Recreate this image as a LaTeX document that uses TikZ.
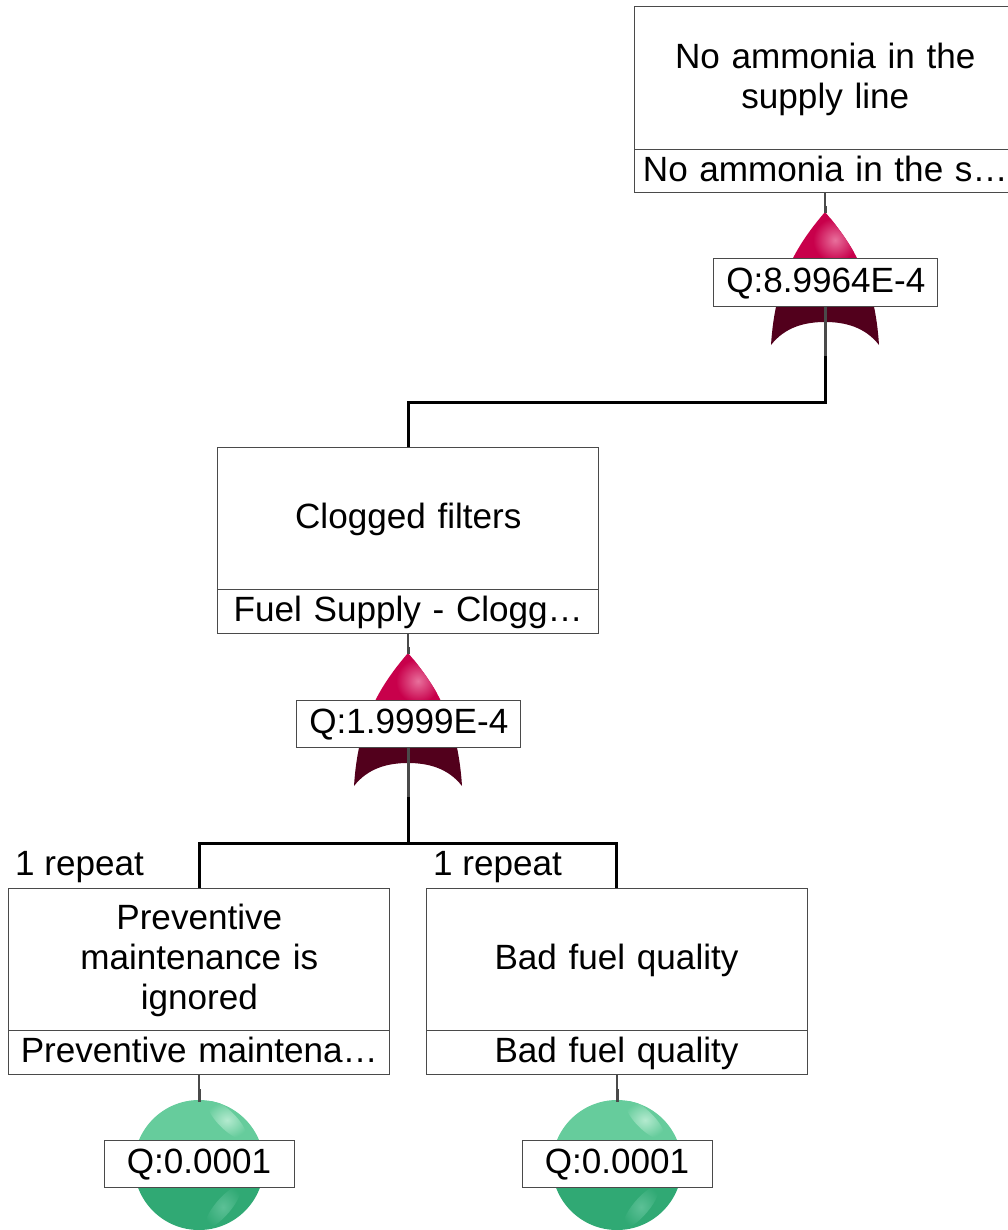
\documentclass[tikz,border=0pt]{standalone}
\usepackage{fontspec}
\setmainfont{Liberation Sans}
\usetikzlibrary{positioning}

\definecolor{gatered}{HTML}{C8004B}
\definecolor{gatepink}{HTML}{E8709C}
\definecolor{gatedark}{HTML}{52001C}
\definecolor{balllight}{HTML}{66CC9C}
\definecolor{ballshine}{HTML}{B4EACF}
\definecolor{balldark}{HTML}{30A974}
\definecolor{ballsheen}{HTML}{5CC096}
\definecolor{boxline}{HTML}{4A4A4A}

\tikzset{
	plainbox/.style={draw=boxline, line width=1pt, fill=white, inner sep=0pt, outer sep=0pt,
		align=center, font=\fontsize{35.1}{40}\selectfont},
	titlebox/.style={plainbox, minimum width=381pt, minimum height=142.5pt, text width=370pt,
		execute at begin node=\rule{0pt}{27.5pt}},
	idbox/.style={plainbox, minimum width=381pt, minimum height=43.5pt, text width=378pt,
		text height=28pt, text depth=7pt},
	qbox/.style={plainbox, minimum height=47pt, text height=25pt, text depth=6pt},
	repeatlabel/.style={inner sep=0pt, anchor=base west, font=\fontsize{35.1}{40}\selectfont},
	wire/.style={draw=black, line width=3pt},
	stem/.style={draw=boxline, line width=3pt},
	thinstem/.style={draw=boxline, line width=1.2pt},
	orgate/.pic={
		\begin{scope}
			\clip (0,0) .. controls (-30,35) and (-50,70) .. (-54,133)
				.. controls (-40,115) and (-20,110) .. (0,110)
				.. controls (20,110) and (40,115) .. (54,133)
				.. controls (50,70) and (30,35) .. (0,0) -- cycle;
			\fill[gatered] (-60,-5) rectangle (60,80);
			\fill[gatedark] (-60,80) rectangle (60,140);
			\shade[inner color=gatepink, outer color=gatered] (10,28) circle (22);
		\end{scope}
		\draw[stem] (0,-6) -- (0,1);
	},
	basicball/.pic={
		\begin{scope}
			\clip (0,0) circle (65);
			\fill[balllight] (-70,-70) rectangle (70,0);
			\fill[balldark] (-70,0) rectangle (70,70);
			\shade[inner color=ballshine, outer color=balllight, shift={(28,-45)}, rotate=-45] (0,0) ellipse (26 and 9);
			\shade[inner color=ballsheen, outer color=balldark, shift={(24,42)}, rotate=50] (0,0) ellipse (26 and 8);
		\end{scope}
		\draw[stem] (0,-76) -- (0,-63);
	}
}

\begin{document}
\begin{tikzpicture}[x=1pt,y=-1pt]
	\useasboundingbox (0,0) rectangle (1008,1230);

	\coordinate (TipTop) at (825,212);
	\coordinate (StemTop) at (825,356);
	\coordinate (BusTop) at (825,402);
	\coordinate (TipClogged) at (408,653);
	\coordinate (StemClogged) at (408,797);
	\coordinate (BusClogged) at (408,843);
	\coordinate (TipMaint) at (199,1102);
	\coordinate (TipFuel) at (617,1102);

	\pic at (TipTop) {orgate};
	\pic at (TipClogged) {orgate};
	\pic at (199,1165) {basicball};
	\pic at (617,1165) {basicball};

	\node[titlebox] (NoAmmonia) at (825.3,78) {No ammonia in the\\supply line};
	\node[idbox, below=0pt of NoAmmonia] (NoAmmoniaId) {No ammonia in the s…};
	\node[qbox, minimum width=224pt] (QTop) at (825.8,282.5) {Q:8.9964E-4};

	\node[titlebox] (Clogged) at (408.3,518.25) {Clogged filters};
	\node[idbox, below=0pt of Clogged] (CloggedId) {Fuel Supply - Clogg…};
	\node[qbox, minimum width=224pt] (QClogged) at (408.8,723.5) {Q:1.9999E-4};

	\node[titlebox] (Maint) at (199.3,959.25) {Preventive\\maintenance is\\ignored};
	\node[idbox, below=0pt of Maint] (MaintId) {Preventive maintena…};
	\node[qbox, minimum width=190pt] (QMaint) at (199,1164) {Q:0.0001};

	\node[titlebox] (Fuel) at (616.5,959.25) {Bad fuel quality};
	\node[idbox, below=0pt of Fuel] (FuelId) {Bad fuel quality};
	\node[qbox, minimum width=190pt] (QFuel) at (617,1164) {Q:0.0001};

	\node[repeatlabel] (RepeatMaint) at (15,875) {1 repeat};
	\node[repeatlabel] (RepeatFuel) at (433,875) {1 repeat};

	\draw[thinstem] (NoAmmoniaId.south -| TipTop) -- (TipTop);
	\draw[thinstem] (CloggedId.south -| TipClogged) -- (TipClogged);
	\draw[thinstem] (MaintId.south -| TipMaint) -- (TipMaint);
	\draw[thinstem] (FuelId.south -| TipFuel) -- (TipFuel);

	\draw[stem] (QTop.south -| StemTop) -- (StemTop);
	\draw[stem] (QClogged.south -| StemClogged) -- (StemClogged);

	\draw[wire] (StemTop) -- (BusTop) -| (Clogged.north);
	\draw[wire] (StemClogged) -- (BusClogged);
	\draw[wire] (BusClogged) -| (Maint.north);
	\draw[wire] (BusClogged) -| (Fuel.north);
\end{tikzpicture}
\end{document}
